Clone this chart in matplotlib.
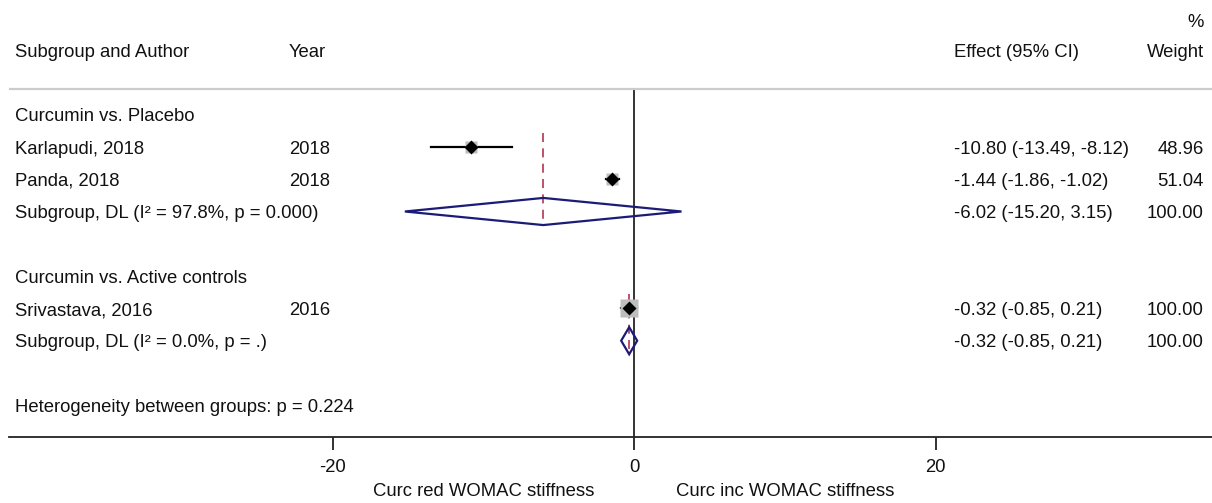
import matplotlib
import numpy as np

matplotlib.use("Agg")
from matplotlib import pyplot as plt
from matplotlib.patches import Polygon

# study-level results
studies = ["Karlapudi, 2018", "Panda, 2018", "Srivastava, 2016"]
years = ["2018", "2018", "2016"]
effects = [-10.80, -1.44, -0.32]
ci_low = [-13.49, -1.86, -0.85]
ci_high = [-8.12, -1.02, 0.21]
weights = [48.96, 51.04, 100.00]

# subgroups and their pooled (DerSimonian-Laird) estimates
groups = ["Curcumin vs. Placebo", "Curcumin vs. Active controls"]
group_members = [[0, 1], [2]]
pooled_effect = [-6.02, -0.32]
pooled_low = [-15.20, -0.85]
pooled_high = [3.15, 0.21]
pooled_labels = ["Subgroup, DL (I\u00b2 = 97.8%, p = 0.000)",
                 "Subgroup, DL (I\u00b2 = 0.0%, p = .)"]
heterogeneity_p = 0.224

x_ticks = [-20, 0, 20]
favours_left = "Curc red WOMAC stiffness"
favours_right = "Curc inc WOMAC stiffness"

plt.rcParams["font.family"] = ["Liberation Sans", "DejaVu Sans"]
plt.rcParams["axes.unicode_minus"] = False
TEXT = "#111111"
FS = 13.3

W, H = 1212, 503
fig = plt.figure(figsize=(W / 100, H / 100), dpi=100)

# pixel layout of the plot region
px_unit = 15.075
px_zero = 634
px_left = 9
px_axis = 436.5
row0_px, row_px = 50, 32.3

ax = fig.add_axes([px_left / W, (H - px_axis) / H, 1 - px_left / W, px_axis / H])
ax.set_xlim((px_left - px_zero) / px_unit, (W - px_zero) / px_unit)
ax.set_ylim((px_axis - row0_px) / row_px, -row0_px / row_px)
for side in ("top", "left", "right"):
    ax.spines[side].set_visible(False)
ax.spines["bottom"].set_linewidth(1.3)
ax.spines["bottom"].set_color("#222222")
ax.set_yticks([])
ax.set_xticks(x_ticks)
ax.set_xticklabels([str(t) for t in x_ticks])
ax.tick_params(axis="x", length=9, width=1.3, color="#222222", pad=7,
               labelsize=FS, labelcolor=TEXT)
ax.set_facecolor("none")

col_label = (15 - px_zero) / px_unit
col_year = (289 - px_zero) / px_unit
col_effect = (954 - px_zero) / px_unit
col_weight = (1204 - px_zero) / px_unit
text_shift = 0.07  # nudge text down so digits sit centred on the row


def put(x, row, s, ha="left"):
    ax.text(x, row + text_shift, s, ha=ha, va="center", fontsize=FS, color=TEXT, clip_on=False)


# column headers
put(col_label, 0, "Subgroup and Author")
put(col_year, 0, "Year")
put(col_effect, 0, "Effect (95% CI)")
put(col_weight, 0, "Weight", ha="right")
put(col_weight, -0.93, "%", ha="right")
header_row = (89.5 - row0_px) / row_px
ax.axhline(header_row, color="#cccccc", lw=1.6)
ax.plot([0, 0], [header_row, ax.get_ylim()[0]], color="#333333", lw=1.4, zorder=1)

diamond_half = 0.42
row = 2
for g, name in enumerate(groups):
    put(col_label, row, name)
    row += 1
    first_row = row
    for i in group_members[g]:
        put(col_label, row, studies[i])
        put(col_year, row, years[i])
        put(col_effect, row, f"{effects[i]:.2f} ({ci_low[i]:.2f}, {ci_high[i]:.2f})")
        put(col_weight, row, f"{weights[i]:.2f}", ha="right")
        ax.plot([ci_low[i], ci_high[i]], [row, row], color="black", lw=1.6, zorder=3)
        box = 18 * np.sqrt(weights[i] / 100) * 0.72
        ax.plot(effects[i], row, marker="s", ms=box, color="#bdbdbd", mec="none", zorder=4)
        ax.plot(effects[i], row, marker="D", ms=7, color="black", mec="none", zorder=5)
        row += 1
    # pooled diamond and dashed line at the pooled estimate
    e, lo, hi = pooled_effect[g], pooled_low[g], pooled_high[g]
    ax.add_patch(Polygon([(lo, row), (e, row - diamond_half), (hi, row), (e, row + diamond_half)],
                         closed=True, fill=False, ec="#1c1c78", lw=1.6, zorder=4))
    ax.plot([e, e], [first_row - 0.44, row + diamond_half], color="#b5455e", lw=1.3,
            dashes=(5, 3.5), zorder=3)
    put(col_label, row, pooled_labels[g])
    put(col_effect, row, f"{e:.2f} ({lo:.2f}, {hi:.2f})")
    put(col_weight, row, f"{100:.2f}", ha="right")
    row += 2

put(col_label, row, f"Heterogeneity between groups: p = {heterogeneity_p:.3f}")

fav_row = (492 - row0_px) / row_px
ax.text(-10, fav_row, favours_left, ha="center", va="center", fontsize=FS, color=TEXT, clip_on=False)
ax.text(10, fav_row, favours_right, ha="center", va="center", fontsize=FS, color=TEXT, clip_on=False)

fig.savefig("out.png", dpi=100, facecolor="white")
